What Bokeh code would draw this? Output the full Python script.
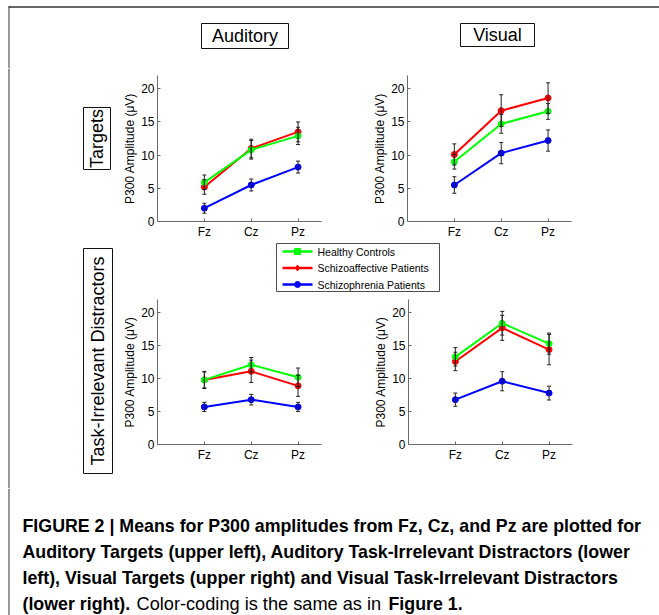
import math
from bokeh.plotting import figure
from bokeh.layouts import column, row
from bokeh.models import Range1d, FixedTicker, ColumnDataSource, Whisker, TeeHead
from bokeh.core.properties import value
from bokeh.embed import file_html
from bokeh.resources import INLINE

# ---------------- data ----------------
electrodes = ["Fz", "Cz", "Pz"]
groups = ["Healthy Controls", "Schizoaffective Patients", "Schizophrenia Patients"]
y_ticks = [0, 5, 10, 15, 20]
col_titles = ["Auditory", "Visual"]
row_titles = ["Targets", "Task-Irrelevant Distractors"]
y_label = "P300 Amplitude (\u03bcV)"

# Auditory targets (upper left)
aud_tgt_hc = [5.9, 10.8, 12.9]
aud_tgt_hc_err = [1.1, 1.4, 1.3]
aud_tgt_sa = [5.2, 11.0, 13.5]
aud_tgt_sa_err = [1.1, 1.4, 1.5]
aud_tgt_sz = [2.0, 5.5, 8.2]
aud_tgt_sz_err = [0.75, 0.9, 0.9]

# Visual targets (upper right)
vis_tgt_hc = [9.0, 14.7, 16.6]
vis_tgt_hc_err = [1.1, 1.4, 1.2]
vis_tgt_sa = [10.1, 16.7, 18.6]
vis_tgt_sa_err = [1.6, 2.4, 2.3]
vis_tgt_sz = [5.5, 10.3, 12.2]
vis_tgt_sz_err = [1.25, 1.6, 1.6]

# Auditory task-irrelevant distractors (lower left)
aud_dis_hc = [9.8, 12.1, 10.2]
aud_dis_hc_err = [1.2, 1.1, 1.4]
aud_dis_sa = [9.8, 11.1, 8.9]
aud_dis_sa_err = [1.3, 1.7, 1.6]
aud_dis_sz = [5.7, 6.8, 5.7]
aud_dis_sz_err = [0.7, 0.8, 0.7]

# Visual task-irrelevant distractors (lower right)
vis_dis_hc = [13.3, 18.4, 15.3]
vis_dis_hc_err = [1.4, 1.8, 1.6]
vis_dis_sa = [12.6, 17.7, 14.4]
vis_dis_sa_err = [1.4, 1.9, 2.3]
vis_dis_sz = [6.8, 9.6, 7.8]
vis_dis_sz_err = [1.0, 1.45, 1.05]

caption_lines = [
    "FIGURE 2 | Means for P300 amplitudes from Fz, Cz, and Pz are plotted for",
    "Auditory Targets (upper left), Auditory Task-Irrelevant Distractors (lower",
    "left), Visual Targets (upper right) and Visual Task-Irrelevant Distractors",
]
caption_last = ["(lower right).", "Color-coding is the same as in", "Figure 1."]

# ---------------- styles ----------------
FONT = "Liberation Sans"
CAP_FONT = "Liberation Sans"
COLORS = ["#00ff00", "#ff0000", "#0000ff"]
AX_COL = "#6a6a6a"
BORDER = "#333333"


def deco(w, h):
    p = figure(width=w, height=h, x_range=Range1d(0, w), y_range=Range1d(h, 0),
               x_axis_type=None, y_axis_type=None, toolbar_location=None,
               output_backend="svg", min_border=0, outline_line_color=None)
    p.grid.visible = False
    p.background_fill_color = "white"
    p.border_fill_color = "white"
    return p


def boxed_label(p, l, r, t, b, text, angle=0.0):
    p.quad(left=[l], right=[r], top=[t], bottom=[b], fill_color="white",
           line_color="#111111", line_width=1)
    p.text(x=[(l + r) / 2], y=[(t + b) / 2], text=[text], angle=angle,
           text_font=value(FONT), text_font_size=value("18px"),
           text_align="center", text_baseline="middle", text_color="black")


def panel(w, h, bl, br, bt, bb, series):
    p = figure(width=w, height=h, x_range=Range1d(0, 3.5), y_range=Range1d(0, 22),
               min_border_left=bl, min_border_right=br, min_border_top=bt,
               min_border_bottom=bb, toolbar_location=None, output_backend="svg",
               outline_line_color=None)
    p.grid.visible = False
    xs = list(range(1, len(electrodes) + 1))
    sources = []
    for idx in [2, 1, 0]:
        means, errs = series[idx]
        src = ColumnDataSource(dict(x=xs, y=means,
                                    lo=[m - e for m, e in zip(means, errs)],
                                    hi=[m + e for m, e in zip(means, errs)]))
        sources.append(src)
        p.line("x", "y", source=src, line_color=COLORS[idx], line_width=2)
        p.scatter("x", "y", source=src, marker="circle", size=6,
                  fill_color=COLORS[idx], line_color=COLORS[idx])
    for src in sources:
        wk = Whisker(base="x", upper="hi", lower="lo", source=src,
                     line_color="#222222", line_width=1, level="overlay",
                     upper_head=TeeHead(size=4, line_color="#222222", line_width=1),
                     lower_head=TeeHead(size=4, line_color="#222222", line_width=1))
        p.add_layout(wk)
    p.xaxis.ticker = FixedTicker(ticks=xs)
    p.xaxis.major_label_overrides = {x: e for x, e in zip(xs, electrodes)}
    p.yaxis.ticker = FixedTicker(ticks=y_ticks)
    p.yaxis.axis_label = y_label
    for ax in (p.xaxis, p.yaxis):
        ax.axis_line_color = AX_COL
        ax.major_tick_line_color = AX_COL
        ax.major_tick_in = 3
        ax.major_tick_out = 0
        ax.minor_tick_line_color = None
        ax.major_label_text_font = FONT
        ax.major_label_text_font_size = "12px"
        ax.major_label_text_color = "black"
        ax.major_label_standoff = 3
        ax.axis_label_text_font = FONT
        ax.axis_label_text_font_size = "12px"
        ax.axis_label_text_font_style = "normal"
        ax.axis_label_text_color = "black"
        ax.axis_label_standoff = 1
    return p


# ---------------- header ----------------
W = 659
LW = 118
header = deco(W, 68)
header.segment(x0=[8], y0=[6.5], x1=[W], y1=[6.5], line_color=BORDER, line_width=1.5)
header.segment(x0=[8.5], y0=[6], x1=[8.5], y1=[68], line_color=BORDER, line_width=1)
boxed_label(header, 201, 288, 23, 48, col_titles[0])
boxed_label(header, 460, 534, 23, 46, col_titles[1])

# ---------------- left labels ----------------
left = deco(LW, 420)
left.segment(x0=[8.5], y0=[0], x1=[8.5], y1=[420], line_color=BORDER, line_width=1)
boxed_label(left, 83, 110, 39, 101, row_titles[0], angle=math.pi / 2)
boxed_label(left, 83, 112, 180, 405, row_titles[1], angle=math.pi / 2)

# ---------------- panels ----------------
p_tl = panel(250, 173, 39, 47, 7, 20,
             [(aud_tgt_hc, aud_tgt_hc_err), (aud_tgt_sa, aud_tgt_sa_err), (aud_tgt_sz, aud_tgt_sz_err)])
p_tr = panel(291, 173, 39, 88, 7, 20,
             [(vis_tgt_hc, vis_tgt_hc_err), (vis_tgt_sa, vis_tgt_sa_err), (vis_tgt_sz, vis_tgt_sz_err)])
p_bl = panel(250, 195, 39, 47, 6, 44,
             [(aud_dis_hc, aud_dis_hc_err), (aud_dis_sa, aud_dis_sa_err), (aud_dis_sz, aud_dis_sz_err)])
p_br = panel(291, 195, 40, 87, 6, 44,
             [(vis_dis_hc, vis_dis_hc_err), (vis_dis_sa, vis_dis_sa_err), (vis_dis_sz, vis_dis_sz_err)])

# ---------------- legend ----------------
leg = deco(W - LW, 52)
leg.quad(left=[158], right=[321], top=[2], bottom=[50], fill_color="white",
         line_color="#4d4d4d", line_width=1)
markers = ["square", "diamond", "circle"]
for i, g in enumerate(groups):
    yy = 10 + i * 16.5
    leg.segment(x0=[164], y0=[yy], x1=[194], y1=[yy], line_color=COLORS[i], line_width=2.5)
    leg.scatter(x=[179], y=[yy], marker=markers[i], size=6,
                fill_color=COLORS[i], line_color=COLORS[i])
    leg.text(x=[199], y=[yy], text=[g], text_font=value(FONT),
             text_font_size=value("10.5px"), text_baseline="middle",
             text_align="left", text_color="black")

# ---------------- caption ----------------
CH = 127
cap = deco(W, CH)
cap.segment(x0=[8.5], y0=[0], x1=[8.5], y1=[CH], line_color=BORDER, line_width=1)
base_y = [37, 63, 89]
for yy, line in zip(base_y, caption_lines):
    cap.text(x=[22], y=[yy], text=[line], text_font=value(CAP_FONT),
             text_font_size=value("17.8px"), text_font_style="bold",
             text_baseline="alphabetic", text_align="left", text_color="black")
last_x = [22, 136, 388]
last_style = ["bold", "normal", "bold"]
last_size = ["17.8px", "18.2px", "17.8px"]
for xx, t, st, fs in zip(last_x, caption_last, last_style, last_size):
    cap.text(x=[xx], y=[115], text=[t], text_font=value(CAP_FONT),
             text_font_size=value(fs), text_font_style=st,
             text_baseline="alphabetic", text_align="left", text_color="black")

layout = column(
    header,
    row(left, column(row(p_tl, p_tr, spacing=0), leg, row(p_bl, p_br, spacing=0), spacing=0), spacing=0),
    cap,
    spacing=0,
)

open("out.html", "w").write(file_html(layout, INLINE))
